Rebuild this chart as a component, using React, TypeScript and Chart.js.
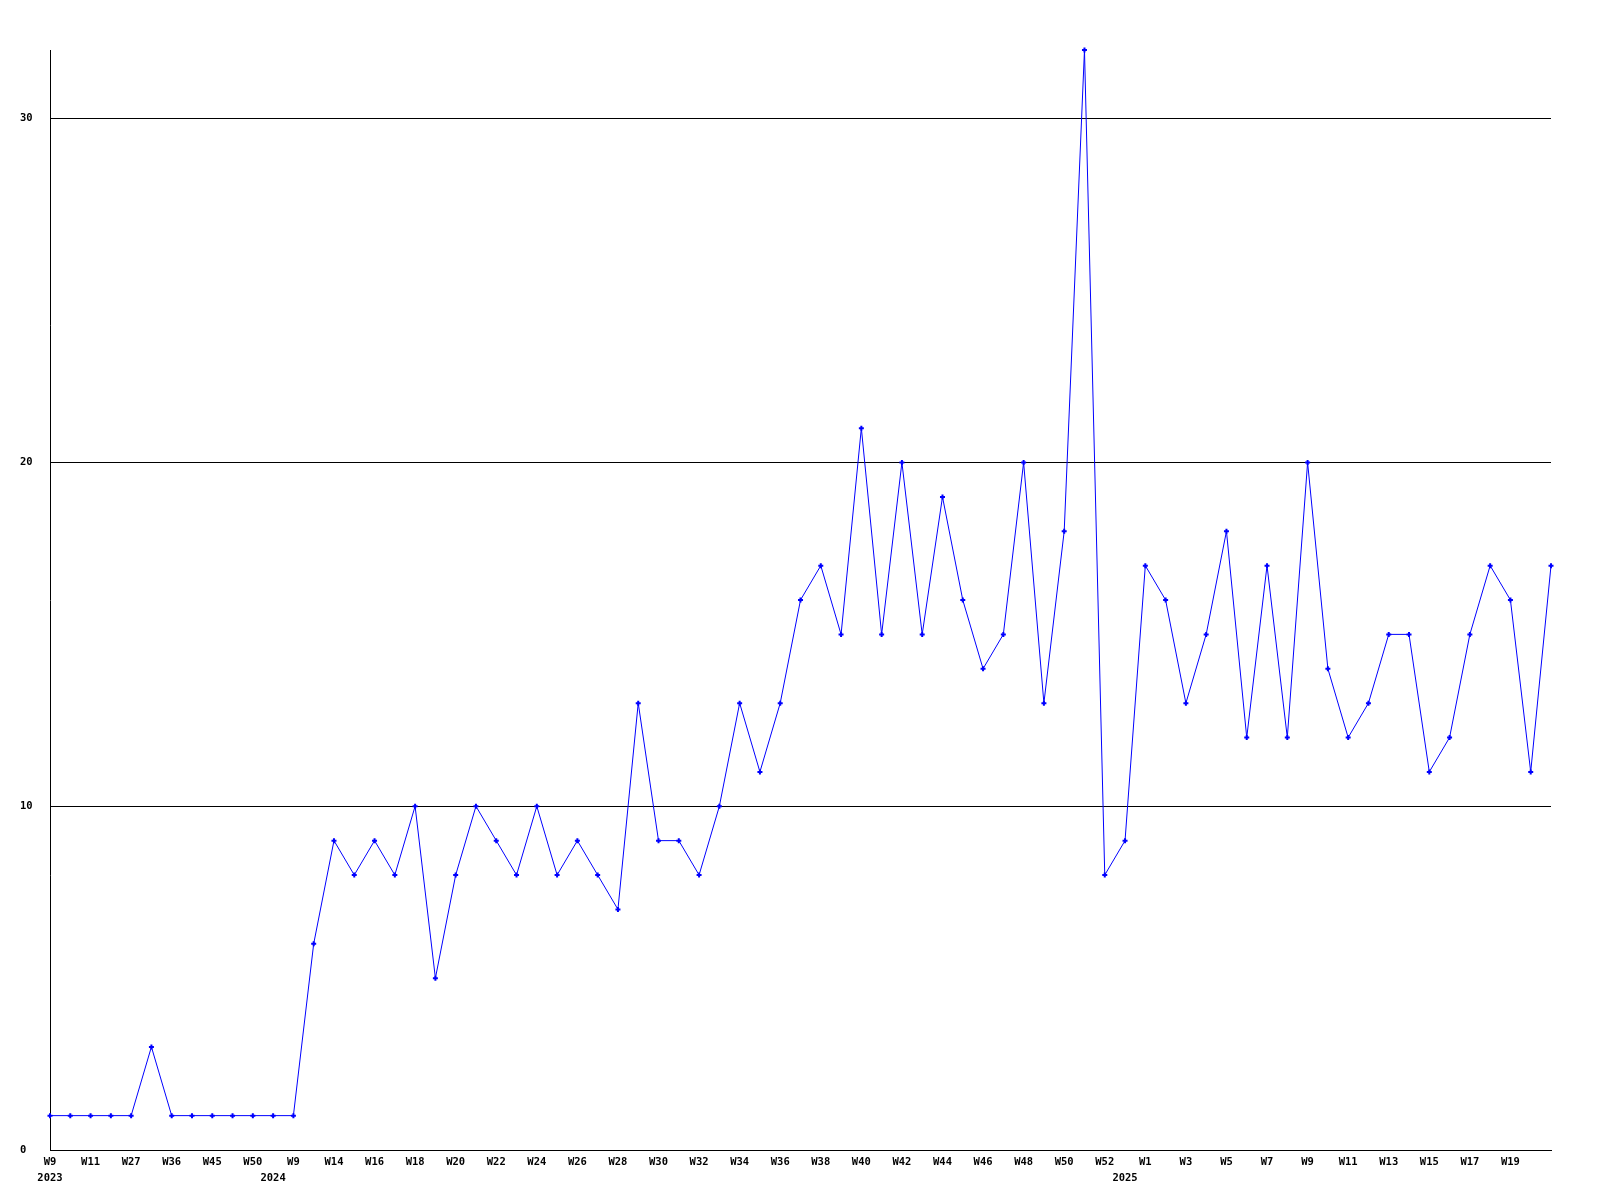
import React, { useEffect, useRef } from "react";
import { Chart, registerables } from "chart.js";

Chart.register(...registerables);

const weekLabels: string[] = [
  "W9", "W10", "W11", "W20", "W27", "W31", "W36", "W40", "W45", "W48", "W50", "W3", "W9", "W12",
  "W14", "W15", "W16", "W17", "W18", "W19", "W20", "W21", "W22", "W23", "W24", "W25", "W26", "W27",
  "W28", "W29", "W30", "W31", "W32", "W33", "W34", "W35", "W36", "W37", "W38", "W39", "W40", "W41",
  "W42", "W43", "W44", "W45", "W46", "W47", "W48", "W49", "W50", "W51", "W52", "W53",
  "W1", "W2", "W3", "W4", "W5", "W6", "W7", "W8", "W9", "W10", "W11", "W12", "W13", "W14", "W15",
  "W16", "W17", "W18", "W19", "W20", "W21",
];

const values: number[] = [
  1, 1, 1, 1, 1, 3, 1, 1, 1, 1,
  1, 1, 1, 6, 9, 8, 9, 8, 10, 5,
  8, 10, 9, 8, 10, 8, 9, 8, 7, 13,
  9, 9, 8, 10, 13, 11, 13, 16, 17, 15,
  21, 15, 20, 15, 19, 16, 14, 15, 20, 13,
  18, 32, 8, 9, 17, 16, 13, 15, 18, 12,
  17, 12, 20, 14, 12, 13, 15, 15, 11, 12,
  15, 17, 16, 11, 17,
];

const yearLabels: string[] = ["2023", "2024", "2025"];
const yearStartIndex: number[] = [0, 11, 53];

const yTicks: number[] = [0, 10, 20, 30];
const yMax = 32;

const FONT = { family: "'DejaVu Sans Mono', monospace", size: 10.5, weight: "bold" as const, lineHeight: 1.55 };

export default function App() {
  const canvasRef = useRef<HTMLCanvasElement | null>(null);

  useEffect(() => {
    if (!canvasRef.current) return;
    const chart = new Chart(canvasRef.current, {
      type: "line",
      data: {
        labels: weekLabels,
        datasets: [
          {
            data: values,
            borderColor: "#0000ff",
            backgroundColor: "#0000ff",
            borderWidth: 1,
            pointStyle: "cross",
            pointRadius: 2.5,
            pointBorderWidth: 2,
            pointBorderColor: "#0000ff",
            tension: 0,
            fill: false,
            clip: false,
          } as any,
        ],
      },
      options: {
        animation: false,
        responsive: false,
        maintainAspectRatio: false,
        layout: { padding: { left: 20, right: 49, top: 50, bottom: 0 } },
        plugins: { legend: { display: false }, tooltip: { enabled: false } },
        scales: {
          x: {
            type: "category",
            offset: false,
            grid: { display: false, drawTicks: false },
            border: { display: true, color: "#000000", width: 1 },
            ticks: {
              autoSkip: false,
              maxRotation: 0,
              minRotation: 0,
              padding: 4,
              color: "#000000",
              font: FONT,
              callback: (_v: any, index: number) => {
                const wk = index % 2 === 0 && index < weekLabels.length - 1 ? weekLabels[index] : "";
                const yi = yearStartIndex.indexOf(index);
                const yr = yi >= 0 ? yearLabels[yi] : "";
                return [wk, yr];
              },
            },
            afterFit: (scale: any) => {
              scale.height = 50;
            },
          },
          y: {
            type: "linear",
            min: 0,
            max: yMax,
            grid: { display: true, color: "#000000", lineWidth: 1, drawTicks: false },
            border: { display: true, color: "#000000", width: 1 },
            afterBuildTicks: (scale: any) => {
              scale.ticks = yTicks.map((v) => ({ value: v }));
            },
            ticks: {
              crossAlign: "far",
              padding: 0,
              color: "#000000",
              font: { family: "'DejaVu Sans Mono', monospace", size: 10.5, weight: "bold" },
              callback: (v: any) => String(v),
            },
            afterFit: (scale: any) => {
              scale.width = 30;
            },
          },
        },
      },
    });
    return () => chart.destroy();
  }, []);

  return (
    <div style={{ position: "fixed", left: 0, top: 0, width: 1600, height: 1200, background: "#ffffff" }}>
      <canvas ref={canvasRef} width={1600} height={1200} style={{ width: 1600, height: 1200 }} />
    </div>
  );
}
